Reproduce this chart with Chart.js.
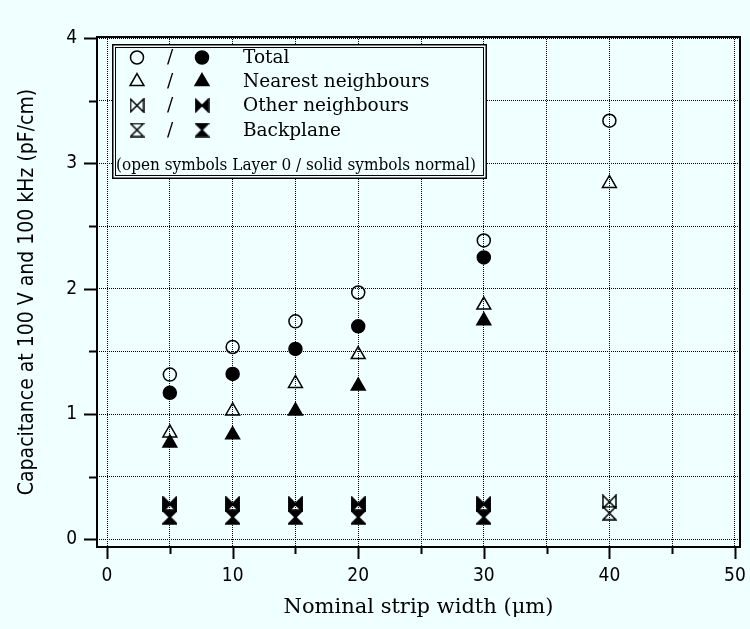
<!DOCTYPE html>
<html>
<head>
<meta charset="utf-8">
<title>Strip capacitance</title>
<script src="https://cdn.jsdelivr.net/npm/chart.js@4.4.1/dist/chart.umd.min.js"></script>
<style>
  html, body { margin: 0; padding: 0; background: #f0ffff; }
  #cap { display: block; }
</style>
</head>
<body>
<canvas id="cap" width="750" height="629" style="width:750px;height:629px"></canvas>
<script>
// nominal strip widths (um)
var widthsL0 = [5, 10, 15, 20, 30, 40];
var widthsNormal = [5, 10, 15, 20, 30];

// Layer 0 samples (open symbols), pF/cm
var totalL0 = [1.315, 1.535, 1.74, 1.97, 2.385, 3.34];
var nearestL0 = [0.85, 1.025, 1.245, 1.475, 1.87, 2.84];
var otherL0 = [0.28, 0.28, 0.28, 0.28, 0.28, 0.30];
var backL0 = [0.18, 0.18, 0.18, 0.18, 0.18, 0.21];

// normal samples (solid symbols), pF/cm
var totalNormal = [1.17, 1.32, 1.52, 1.70, 2.25];
var nearestNormal = [0.77, 0.835, 1.025, 1.225, 1.745];
var otherNormal = [0.285, 0.285, 0.285, 0.285, 0.285];
var backNormal = [0.175, 0.175, 0.175, 0.175, 0.175];

var seriesNames = ['Total', 'Nearest neighbours', 'Other neighbours', 'Backplane'];
var legendNote = '(open symbols Layer 0 / solid symbols normal)';

var xTicks = [0, 5, 10, 15, 20, 25, 30, 35, 40, 45, 50];
var yTicks = [0, 0.5, 1, 1.5, 2, 2.5, 3, 3.5, 4];

var BG = '#f0ffff';
var INK = '#000';

// bow-tie and hourglass markers are drawn once into small canvases
function makeGlyph(kind, filled) {
	var c = document.createElement('canvas');
	c.width = 15; c.height = 15;
	var g = c.getContext('2d');
	var a = 1, b = 14, m = 7.5;
	g.beginPath();
	if (kind === 'bowtie') {
		g.moveTo(a, a); g.lineTo(m, m); g.lineTo(b, a);
		g.lineTo(b, b); g.lineTo(m, m); g.lineTo(a, b);
	} else {
		g.moveTo(a, a); g.lineTo(b, a); g.lineTo(m, m);
		g.lineTo(b, b); g.lineTo(a, b); g.lineTo(m, m);
	}
	g.closePath();
	if (filled) { g.fillStyle = INK; g.fill(); }
	g.lineJoin = 'miter';
	g.lineWidth = 1.5;
	g.strokeStyle = INK;
	g.stroke();
	return c;
}

var glyphs = {
	bowtie: [makeGlyph('bowtie', false), makeGlyph('bowtie', true)],
	hourglass: [makeGlyph('hourglass', false), makeGlyph('hourglass', true)]
};

var styles = ['circle', 'triangle', 'bowtie', 'hourglass'];

function pointStyleOf(kind, filled) {
	return glyphs[kind] ? glyphs[kind][filled ? 1 : 0] : kind;
}

function series(name, kind, filled, xs, ys) {
	return {
		label: name + (filled ? ' (normal)' : ' (Layer 0)'),
		data: xs.map(function (x, i) { return { x: x, y: ys[i] }; }),
		pointStyle: pointStyleOf(kind, filled),
		pointRadius: kind === 'triangle' ? 8 : 6.5,
		pointHoverRadius: kind === 'triangle' ? 8 : 6.5,
		backgroundColor: filled ? INK : 'rgba(0,0,0,0)',
		borderColor: INK,
		borderWidth: 1.5,
		order: filled ? 0 : 1
	};
}

// same shapes for the legend box
function drawMarker(ctx, kind, filled, x, y) {
	ctx.save();
	ctx.strokeStyle = INK;
	ctx.fillStyle = INK;
	ctx.lineWidth = 1.5;
	if (kind === 'circle') {
		ctx.beginPath();
		ctx.arc(x, y, 6.5, 0, Math.PI * 2);
		filled ? ctx.fill() : null;
		ctx.stroke();
	} else if (kind === 'triangle') {
		var r = 8;
		ctx.beginPath();
		ctx.moveTo(x, y - r);
		ctx.lineTo(x + r * Math.sin(Math.PI / 3), y + r / 2);
		ctx.lineTo(x - r * Math.sin(Math.PI / 3), y + r / 2);
		ctx.closePath();
		filled ? ctx.fill() : null;
		ctx.stroke();
	} else {
		var img = glyphs[kind][filled ? 1 : 0];
		ctx.drawImage(img, x - img.width / 2, y - img.height / 2);
	}
	ctx.restore();
}

// frame, outside tick marks and the symbol key
var framePlugin = {
	id: 'frame',
	afterDraw: function (chart) {
		var ctx = chart.ctx, a = chart.chartArea;
		var sx = chart.scales.x, sy = chart.scales.y;
		ctx.save();
		ctx.strokeStyle = INK;
		ctx.lineWidth = 2;
		ctx.strokeRect(a.left, a.top, a.right - a.left, a.bottom - a.top);

		xTicks.forEach(function (v) {
			var px = Math.round(sx.getPixelForValue(v)) + 0.5;
			var len = v % 10 === 0 ? 12 : 7;
			ctx.beginPath();
			ctx.moveTo(px, a.bottom);
			ctx.lineTo(px, a.bottom + len);
			ctx.stroke();
		});
		yTicks.forEach(function (v) {
			var py = Math.round(sy.getPixelForValue(v)) + 0.5;
			var len = v % 1 === 0 ? 13 : 8;
			ctx.beginPath();
			ctx.moveTo(a.left, py);
			ctx.lineTo(a.left - len, py);
			ctx.stroke();
		});

		// key box
		var bx = 112, by = 44, bw = 375, bh = 135;
		ctx.fillStyle = BG;
		ctx.fillRect(bx, by, bw, bh);
		ctx.lineWidth = 1.5;
		ctx.strokeRect(bx + 0.75, by + 0.75, bw - 1.5, bh - 1.5);
		ctx.lineWidth = 1;
		ctx.strokeRect(bx + 3.5, by + 3.5, bw - 7, bh - 7);

		var rowY = [57.5, 81.5, 105.5, 130];
		ctx.fillStyle = INK;
		ctx.textBaseline = 'middle';
		ctx.textAlign = 'left';
		ctx.font = '18.5px "DejaVu Serif", serif';
		styles.forEach(function (kind, i) {
			drawMarker(ctx, kind, false, 137, rowY[i]);
			drawMarker(ctx, kind, true, 202, rowY[i]);
			ctx.fillStyle = INK;
			ctx.textAlign = 'center';
			ctx.fillText('/', 170, rowY[i] + 1);
			ctx.textAlign = 'left';
			ctx.fillText(seriesNames[i], 243, rowY[i] + 1);
		});
		ctx.font = '17px "DejaVu Serif Condensed", "DejaVu Serif", serif';
		ctx.fillText(legendNote, 116, 166, 365);
		ctx.restore();
	}
};

var datasets = [];
datasets.push(series(seriesNames[0], 'circle', true, widthsNormal, totalNormal));
datasets.push(series(seriesNames[1], 'triangle', true, widthsNormal, nearestNormal));
datasets.push(series(seriesNames[2], 'bowtie', true, widthsNormal, otherNormal));
datasets.push(series(seriesNames[3], 'hourglass', true, widthsNormal, backNormal));
datasets.push(series(seriesNames[0], 'circle', false, widthsL0, totalL0));
datasets.push(series(seriesNames[1], 'triangle', false, widthsL0, nearestL0));
datasets.push(series(seriesNames[2], 'bowtie', false, widthsL0, otherL0));
datasets.push(series(seriesNames[3], 'hourglass', false, widthsL0, backL0));

var tickFont = { family: '"DejaVu Sans Condensed", "DejaVu Sans", sans-serif', size: 19 };

// keep the plot box fixed: no extra room for overhanging tick labels
function dropPadding(scale) {
	scale.paddingLeft = 0;
	scale.paddingRight = 0;
	scale.paddingTop = 0;
	scale.paddingBottom = 0;
}

new Chart(document.getElementById('cap'), {
	type: 'scatter',
	data: { datasets: datasets },
	plugins: [framePlugin],
	options: {
		responsive: false,
		animation: false,
		devicePixelRatio: 1,
		layout: { autoPadding: false, padding: { top: 37, right: 10, left: 0, bottom: 0 } },
		plugins: { legend: { display: false }, tooltip: { enabled: false } },
		scales: {
			x: {
				type: 'linear',
				min: -0.8,
				max: 50.4,
				afterBuildTicks: function (scale) {
					scale.ticks = xTicks.map(function (v) { return { value: v }; });
				},
				afterFit: function (scale) { scale.height = 82; dropPadding(scale); },
				grid: { color: INK, lineWidth: 1, drawTicks: false },
				border: { display: false, dash: [1, 1] },
				ticks: {
					color: INK,
					font: tickFont,
					padding: 18,
					maxRotation: 0,
					autoSkip: false,
					callback: function (v) { return v % 10 === 0 ? String(v) : ''; }
				},
				title: {
					display: true,
					text: 'Nominal strip width (μm)',
					color: INK,
					font: { family: '"DejaVu Serif", serif', size: 21 },
					padding: { top: 0, bottom: 9 }
				}
			},
			y: {
				type: 'linear',
				min: -0.06,
				max: 4.008,
				afterBuildTicks: function (scale) {
					scale.ticks = yTicks.map(function (v) { return { value: v }; });
				},
				afterFit: function (scale) { scale.width = 97; dropPadding(scale); },
				grid: { color: INK, lineWidth: 1, drawTicks: false },
				border: { display: false, dash: [1, 1] },
				ticks: {
					color: INK,
					font: tickFont,
					padding: 20,
					autoSkip: false,
					callback: function (v) { return v % 1 === 0 ? String(v) : ''; }
				},
				title: {
					display: true,
					text: 'Capacitance at 100 V and 100 kHz (pF/cm)',
					color: INK,
					font: { family: '"DejaVu Sans Condensed", "DejaVu Sans", sans-serif', size: 21 },
					padding: { top: 15, bottom: 0 }
				}
			}
		}
	}
});
</script>
</body>
</html>
